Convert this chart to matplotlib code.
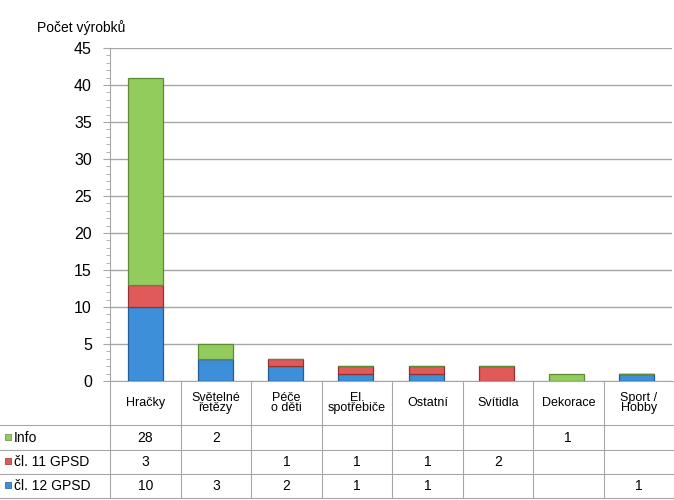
import matplotlib.pyplot as plt
import numpy as np

plt.rcParams['font.family'] = ['Liberation Sans', 'DejaVu Sans']

categories = ['Hračky', 'Světelné\nřetězy', 'Péče\no děti', 'El.\nspotřebiče',
              'Ostatní', 'Svítidla', 'Dekorace', 'Sport /\nHobby']
series_names = ['Info', 'čl. 11 GPSD', 'čl. 12 GPSD']
info = [28, 2, 0, 0, 0, 0, 1, 0]
cl11 = [3, 0, 1, 1, 1, 2, 0, 0]
cl12 = [10, 3, 2, 1, 1, 0, 0, 1]
yticks = [0, 5, 10, 15, 20, 25, 30, 35, 40, 45]

face = {'Info': '#92cc5c', 'čl. 11 GPSD': '#e05a5a', 'čl. 12 GPSD': '#3d8fd9'}
edge = {'Info': '#5f8a36', 'čl. 11 GPSD': '#943232', 'čl. 12 GPSD': '#245e96'}
grid_col = '#a6a6a6'

fig = plt.figure(figsize=(6.74, 5.0), dpi=100)
ax = fig.add_axes([110 / 674, 119 / 500, 562 / 674, 333 / 500])

x = np.arange(len(categories))
cl12 = np.array(cl12)
cl11 = np.array(cl11)
info = np.array(info)
ax.bar(x, cl12, width=0.5, color=face['čl. 12 GPSD'], edgecolor=edge['čl. 12 GPSD'], linewidth=0.9, zorder=3)
ax.bar(x, cl11, width=0.5, bottom=cl12, color=face['čl. 11 GPSD'], edgecolor=edge['čl. 11 GPSD'], linewidth=0.9, zorder=3)
ax.bar(x, info, width=0.5, bottom=cl12 + cl11, color=face['Info'], edgecolor=edge['Info'], linewidth=0.9, zorder=3)

ax.set_xlim(-0.5, len(categories) - 0.5)
ax.set_ylim(0, 45)
ax.set_yticks(yticks)
ax.set_yticks(np.arange(0, 46, 1), minor=True)
ax.tick_params(axis='y', which='major', length=5, color=grid_col, labelsize=11.5, pad=8)
ax.tick_params(axis='y', which='minor', length=3, color=grid_col)
ax.set_xticks([])
ax.yaxis.grid(True, color=grid_col, linewidth=1.0, zorder=0)
for s in ['top', 'right', 'bottom']:
    ax.spines[s].set_visible(False)
ax.spines['left'].set_color(grid_col)

fig.text(37 / 674, 1 - 28 / 500, 'Počet výrobků', fontsize=10, va='center', ha='left')

# data table: same x units as the bars, y in pixels
px_per_cat = 562 / len(categories)
left = -0.5 - 110 / px_per_cat
tax = fig.add_axes([0, 0, 1, 119 / 500])
tax.set_xlim(left, len(categories) - 0.5)
tax.set_ylim(0, 119)
tax.axis('off')

row_lines = [119, 75, 50, 26, 2]
# vertical lines between columns
for b in np.arange(-0.5, len(categories), 1.0):
    tax.plot([b, b], [row_lines[-1], row_lines[0]], color=grid_col, lw=0.8)
# horizontal lines
tax.plot([-0.5, len(categories) - 0.5], [row_lines[0]] * 2, color=grid_col, lw=0.8)
for yl in row_lines[1:]:
    tax.plot([left, len(categories) - 0.5], [yl] * 2, color=grid_col, lw=0.8)

for i, c in enumerate(categories):
    tax.text(i, (row_lines[0] + row_lines[1]) / 2, c, ha='center', va='center',
             fontsize=9, linespacing=0.85)

rows = [info, cl11, cl12]
for r, (n, vals) in enumerate(zip(series_names, rows)):
    yc = (row_lines[r + 1] + row_lines[r + 2]) / 2
    tax.scatter([left + 8 / px_per_cat], [yc + 1], marker='s', s=14,
                color=face[n], edgecolors=edge[n], linewidths=0.5)
    tax.text(left + 14 / px_per_cat, yc, n, ha='left', va='center', fontsize=10)
    for i, v in enumerate(vals):
        if v:
            tax.text(i, yc, str(v), ha='center', va='center', fontsize=10)

fig.savefig('out.png', dpi=100)
